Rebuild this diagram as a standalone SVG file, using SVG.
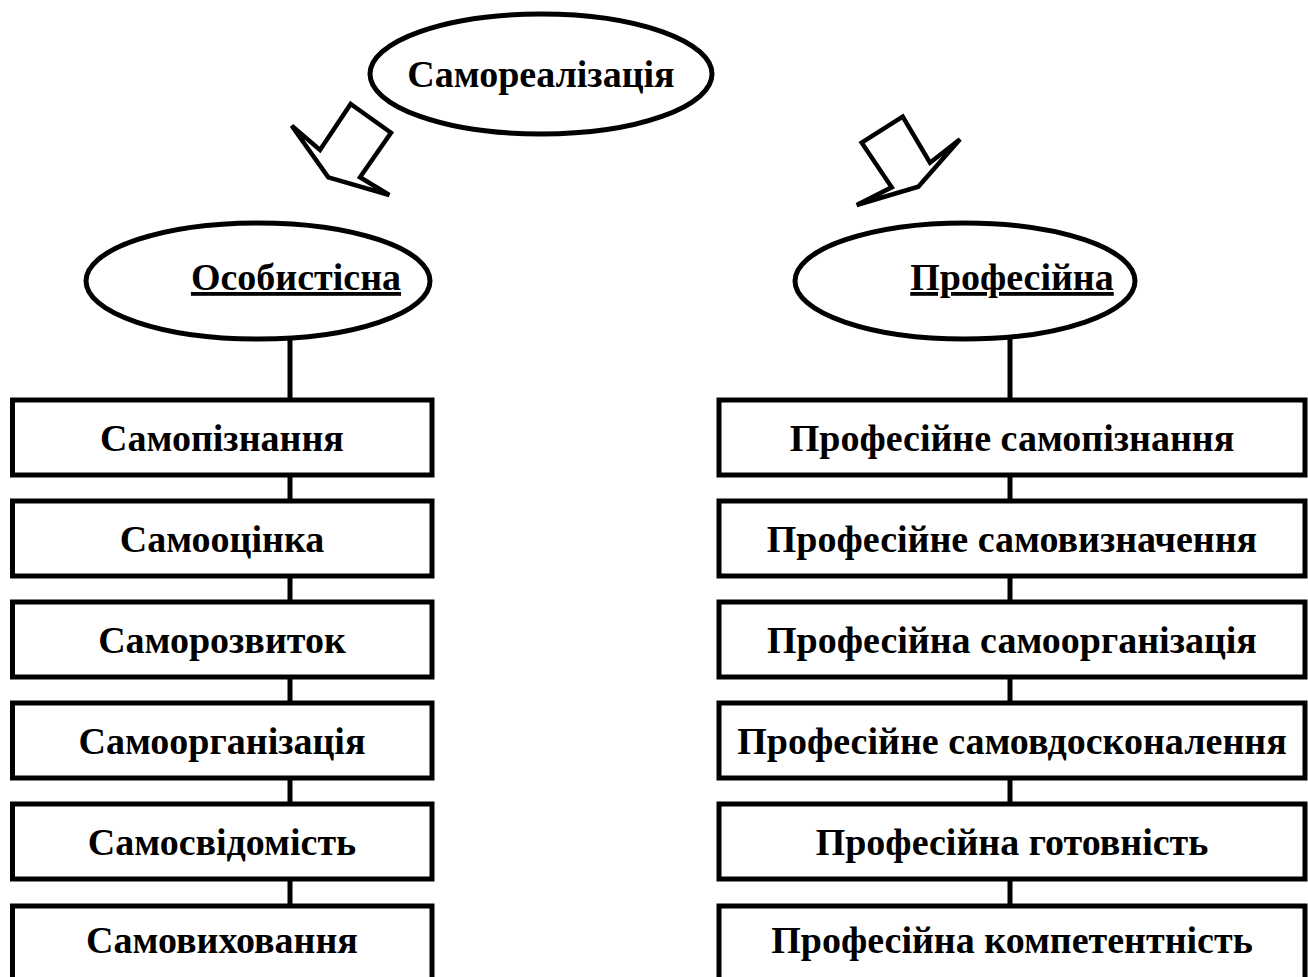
<svg xmlns="http://www.w3.org/2000/svg" width="1308" height="977" viewBox="0 0 1308 977">
<style>
.shape{fill:#fff;stroke:#000;stroke-width:5}
.line{stroke:#000;stroke-width:5;fill:none}
.arrow{fill:#fff;stroke:#000;stroke-width:4.5;stroke-linejoin:miter}
.t{font-family:"Liberation Serif","Times New Roman",serif;font-weight:bold;font-size:38px;text-anchor:middle;fill:#000}
.u{text-decoration:underline}
</style>
<rect width="1308" height="977" fill="#fff"/>
<g id="connectors">
<line class="line" x1="290" y1="338" x2="290" y2="905"/>
<line class="line" x1="1010" y1="338" x2="1010" y2="905"/>
<polygon class="arrow" points="350.7,104 391,132.7 360,177.3 389.3,195 328.3,177.3 291.7,125.7 320,150"/>
<polygon class="arrow" points="902.7,116.7 930,162.7 960,139.3 918.3,186.7 856.7,205 891.7,187.3 861.7,142.7"/>
</g>
<g id="root"><ellipse class="shape" cx="541" cy="74" rx="171" ry="60"/><text class="t" x="541" y="87">Самореалізація</text></g>
<g id="personal"><ellipse class="shape" cx="258" cy="281" rx="172" ry="58"/><text class="t u" x="296" y="290">Особистісна</text></g>
<g id="professional"><ellipse class="shape" cx="965" cy="281" rx="170" ry="58"/><text class="t u" x="1012" y="290">Професійна</text></g>
<g id="l1"><rect class="shape" x="12.5" y="400" width="419.5" height="75"/><text class="t" x="222" y="451">Самопізнання</text></g>
<g id="l2"><rect class="shape" x="12.5" y="501" width="419.5" height="75"/><text class="t" x="222" y="552">Самооцінка</text></g>
<g id="l3"><rect class="shape" x="12.5" y="602" width="419.5" height="75"/><text class="t" x="222" y="653">Саморозвиток</text></g>
<g id="l4"><rect class="shape" x="12.5" y="703" width="419.5" height="75"/><text class="t" x="222" y="754">Самоорганізація</text></g>
<g id="l5"><rect class="shape" x="12.5" y="804" width="419.5" height="75"/><text class="t" x="222" y="855">Самосвідомість</text></g>
<g id="l6"><rect class="shape" x="12.5" y="906" width="419.5" height="77"/><text class="t" x="222" y="953">Самовиховання</text></g>
<g id="r1"><rect class="shape" x="719" y="400" width="586" height="75"/><text class="t" x="1012" y="451">Професійне самопізнання</text></g>
<g id="r2"><rect class="shape" x="719" y="501" width="586" height="75"/><text class="t" x="1012" y="552">Професійне самовизначення</text></g>
<g id="r3"><rect class="shape" x="719" y="602" width="586" height="75"/><text class="t" x="1012" y="653">Професійна самоорганізація</text></g>
<g id="r4"><rect class="shape" x="719" y="703" width="586" height="75"/><text class="t" x="1012" y="754">Професійне самовдосконалення</text></g>
<g id="r5"><rect class="shape" x="719" y="804" width="586" height="75"/><text class="t" x="1012" y="855">Професійна готовність</text></g>
<g id="r6"><rect class="shape" x="719" y="906" width="586" height="77"/><text class="t" x="1012" y="953">Професійна компетентність</text></g>
</svg>
